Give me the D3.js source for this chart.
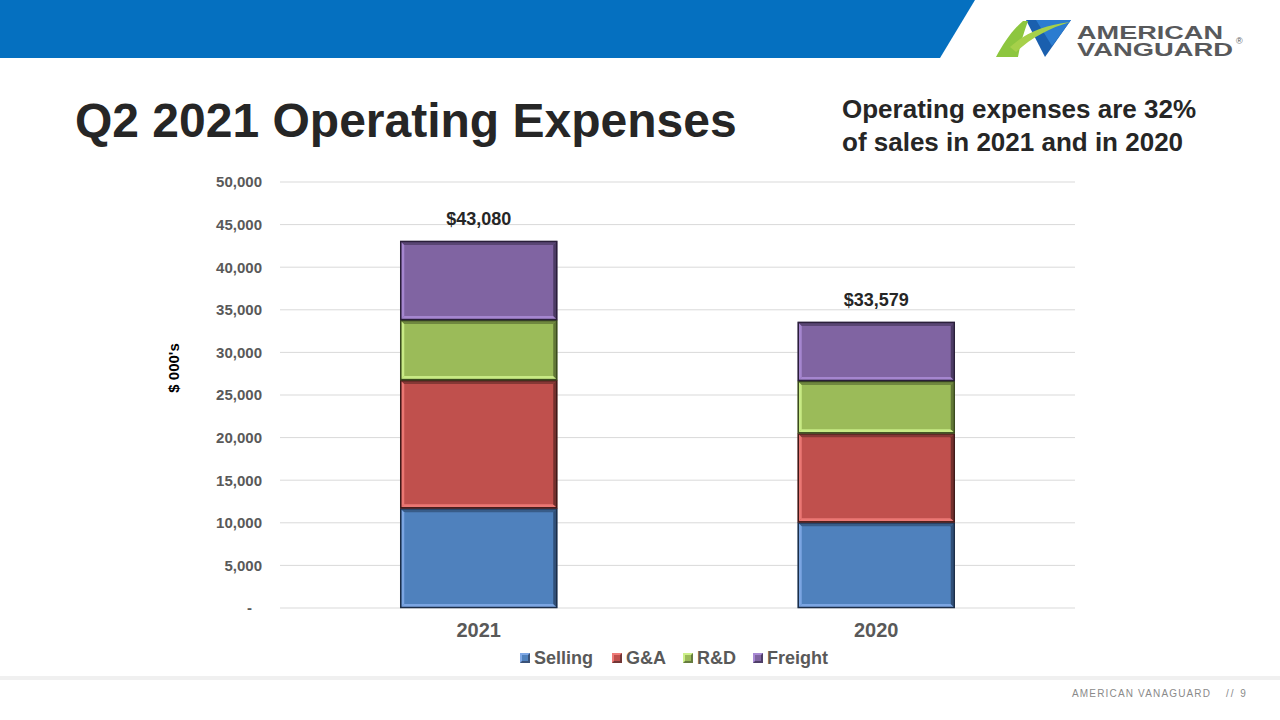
<!DOCTYPE html>
<html><head><meta charset="utf-8">
<script src="https://cdn.jsdelivr.net/npm/d3@7"></script>
<style>body{margin:0;background:#fff}svg{display:block}</style>
</head><body>
<svg id="c" width="1280" height="720"></svg>
<script>
const categories = ["2021", "2020"];
const seriesNames = ["Selling", "G&A", "R&D", "Freight"];
const selling = [11700, 10050];
const gna = [15050, 10450];
const rnd = [7050, 6150];
const freight = [9280, 6929];
const totals = [43080, 33579];
const yTicks = [0, 5000, 10000, 15000, 20000, 25000, 30000, 35000, 40000, 45000, 50000];
const colors = ["#4F81BD", "#C0504D", "#9BBB59", "#8064A2"];
const lightC = ["#7fa8e6", "#ee7b78", "#cdf08a", "#a98ad4"];
const darkC = ["#1c2e48", "#3f1a19", "#3a4a1f", "#2a1f3a"];

const svg = d3.select("#c");
const F = "Liberation Sans, Arial, sans-serif";

// header band
svg.append("path").attr("d", "M0,0 L975,0 L940,58 L0,58 Z").attr("fill", "#0570c0");

// logo
const lg = svg.append("g");
lg.append("path").attr("d", "M1026,20 L1071,20 L1045,57 Z").attr("fill", "#1a5fae");
lg.append("path").attr("d", "M1036,20 L1071,20 L1052,46 Z").attr("fill", "#2b7cd0");
lg.append("path").attr("d", "M996,57 C1003,44 1012,30 1023,21 L1028,21 C1024,32 1020,44 1018,57 Z").attr("fill", "#8dc63f");
lg.append("path").attr("d", "M1010,47 C1025,33 1045,25 1070,22 C1050,28 1032,37 1016,52 Z").attr("fill", "#a6d04a");
const lt = lg.append("text").attr("font-family", F).attr("font-weight", "bold")
  .attr("font-size", 19).attr("fill", "#58595b");
lt.append("tspan").attr("x", 1077).attr("y", 38.5).attr("textLength", 146).attr("lengthAdjust", "spacingAndGlyphs").text("AMERICAN");
lt.append("tspan").attr("x", 1077).attr("y", 56).attr("textLength", 156).attr("lengthAdjust", "spacingAndGlyphs").text("VANGUARD");
lt.append("tspan").attr("x", 1236).attr("y", 44).attr("font-size", 9).attr("font-weight", "normal").text("®");

// titles
svg.append("text").attr("x", 75).attr("y", 137).attr("font-family", F).attr("font-weight", "bold")
  .attr("font-size", 48).attr("fill", "#262626").text("Q2 2021 Operating Expenses");
svg.append("text").attr("x", 842).attr("y", 118).attr("font-family", F).attr("font-weight", "bold")
  .attr("font-size", 26).attr("fill", "#262626").text("Operating expenses are 32%");
svg.append("text").attr("x", 842).attr("y", 151).attr("font-family", F).attr("font-weight", "bold")
  .attr("font-size", 26).attr("fill", "#262626").text("of sales in 2021 and in 2020");

// scales
const x = d3.scaleBand().domain(categories).range([280, 1075]).paddingInner(0.605).paddingOuter(0.3025);
const y = d3.scaleLinear().domain([0, 50000]).range([608, 182]);

// gridlines
svg.append("g").selectAll("line").data(yTicks).join("line")
  .attr("x1", 280).attr("x2", 1075).attr("y1", d => y(d)).attr("y2", d => y(d))
  .attr("stroke", "#d9d9d9").attr("stroke-width", 1);

// y axis
const yAxis = d3.axisLeft(y).tickValues(yTicks).tickSize(0).tickPadding(0)
  .tickFormat(d => d === 0 ? "-" : d3.format(",")(d));
const ya = svg.append("g").attr("transform", "translate(262,0)").call(yAxis);
ya.select(".domain").remove();
ya.selectAll("text").attr("font-family", F).attr("font-weight", "bold").attr("font-size", 15).attr("fill", "#595959");
ya.selectAll(".tick").filter(d => d === 0).select("text").attr("dx", -10);

svg.append("text").attr("transform", "translate(179,368) rotate(-90)").attr("text-anchor", "middle")
  .attr("font-family", F).attr("font-weight", "bold").attr("font-size", 15).attr("fill", "#000").text("$ 000's");

// stacked data
const rows = categories.map((c, i) => ({cat: c, Selling: selling[i], "G&A": gna[i], "R&D": rnd[i], Freight: freight[i]}));
const stack = d3.stack().keys(seriesNames)(rows);

const bw = x.bandwidth();
stack.forEach((layer, si) => {
  const g = svg.append("g");
  layer.forEach(d => {
    const x0 = x(d.data.cat), y0 = y(d[1]), h = y(d[0]) - y(d[1]);
    g.append("rect").attr("x", x0).attr("y", y0).attr("width", bw).attr("height", h).attr("fill", colors[si]);
    g.append("path").attr("d", `M${x0+1},${y0+1} L${x0+4},${y0+4} L${x0+4},${y0+h-4} L${x0+1},${y0+h-1} Z`).attr("fill", lightC[si]).attr("opacity", 0.9);
    g.append("path").attr("d", `M${x0+1},${y0+h-1} L${x0+4},${y0+h-4} L${x0+bw-4},${y0+h-4} L${x0+bw-1},${y0+h-1} Z`).attr("fill", lightC[si]).attr("opacity", 0.9);
    g.append("path").attr("d", `M${x0+bw-1},${y0+1} L${x0+bw-4},${y0+4} L${x0+bw-4},${y0+h-4} L${x0+bw-1},${y0+h-1} Z`).attr("fill", darkC[si]).attr("opacity", 0.6);
    g.append("path").attr("d", `M${x0+1},${y0+1} L${x0+4},${y0+4} L${x0+bw-4},${y0+4} L${x0+bw-1},${y0+1} Z`).attr("fill", darkC[si]).attr("opacity", 0.45);
    g.append("rect").attr("x", x0+0.5).attr("y", y0+0.5).attr("width", bw-1).attr("height", h-1)
      .attr("fill", "none").attr("stroke", darkC[si]).attr("stroke-width", 1.5);
  });
});

// total labels
svg.append("g").selectAll("text").data(categories).join("text")
  .attr("x", d => x(d) + bw / 2).attr("y", (d, i) => y(totals[i]) - 16).attr("text-anchor", "middle")
  .attr("font-family", F).attr("font-weight", "bold").attr("font-size", 18).attr("fill", "#262626")
  .text((d, i) => "$" + d3.format(",")(totals[i]));

// x axis
const xAxis = d3.axisBottom(x).tickSize(0).tickPadding(0);
const xa = svg.append("g").attr("transform", "translate(0,622)").call(xAxis);
xa.select(".domain").remove();
xa.selectAll("text").attr("font-family", F).attr("font-weight", "bold").attr("font-size", 20).attr("fill", "#595959").attr("dy", "0.75em");

// legend
const legX = [520, 612, 683, 753];
const leg = svg.append("g");
seriesNames.forEach((n, i) => {
  const lx = legX[i], ly = 653;
  leg.append("rect").attr("x", lx).attr("y", ly).attr("width", 10).attr("height", 10).attr("fill", lightC[i]);
  leg.append("path").attr("d", `M${lx+10},${ly} L${lx+10},${ly+10} L${lx},${ly+10} Z`).attr("fill", darkC[i]).attr("opacity", 0.7);
  leg.append("rect").attr("x", lx+2).attr("y", ly+2).attr("width", 6).attr("height", 6).attr("fill", colors[i]);
  leg.append("text").attr("x", lx + 14).attr("y", ly + 11).attr("font-family", F).attr("font-weight", "bold")
    .attr("font-size", 18).attr("fill", "#595959").text(n);
});

// footer
svg.append("rect").attr("x", 0).attr("y", 676).attr("width", 1280).attr("height", 4).attr("fill", "#f0f0f0");
svg.append("text").attr("x", 1072).attr("y", 697).attr("font-family", F).attr("font-size", 10)
  .attr("fill", "#8a8a8a").attr("textLength", 138).attr("lengthAdjust", "spacing").text("AMERICAN VANAGUARD");
svg.append("text").attr("x", 1226).attr("y", 697).attr("font-family", F).attr("font-size", 10)
  .attr("fill", "#8a8a8a").attr("letter-spacing", 2).text("// 9");
</script>
</body></html>
